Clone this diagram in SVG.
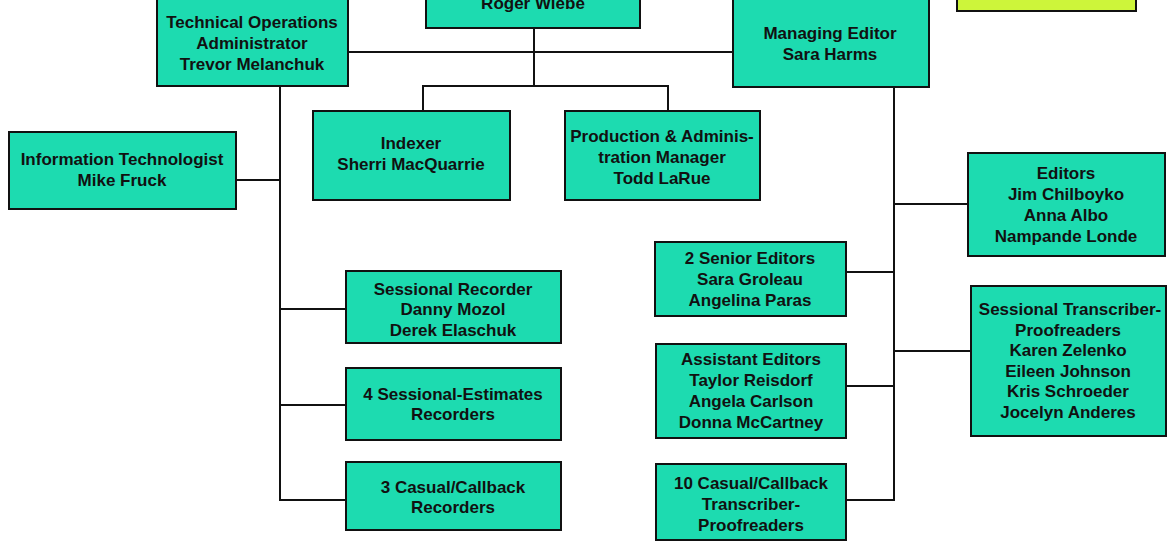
<svg xmlns="http://www.w3.org/2000/svg" width="1175" height="550" viewBox="0 0 1175 550">
<style>
.box{fill:#1ddbb0;stroke:#111;stroke-width:2}
.yel{fill:#cdf53a;stroke:#111;stroke-width:2}
.t{font-family:"Liberation Sans",Arial,sans-serif;font-weight:bold;font-size:17px;fill:#111;text-anchor:middle}
.c{fill:none;stroke:#111;stroke-width:2}
</style>
<rect width="1175" height="550" fill="#fff"/>
<g id="connectors">
<path class="c" d="M348 52H733M534 28V86M423 111V86H668V111"/>
<path class="c" d="M280 86V500H346M236 180H280M280 309H346M280 405H346"/>
<path class="c" d="M894 86V500H846M894 204H968M846 272H894M894 351H971M846 386H894"/>
</g>
<g id="roger"><rect class="box" x="426" y="-10" width="214" height="38"/><text class="t" x="533" y="9">Roger Wiebe</text></g>
<g id="yellow"><rect class="yel" x="957" y="-10" width="179" height="21"/></g>
<g id="techops"><rect class="box" x="157" y="-2" width="191" height="88"/><text class="t" x="252" y="28">Technical Operations</text><text class="t" x="252" y="49">Administrator</text><text class="t" x="252" y="70">Trevor Melanchuk</text></g>
<g id="manedit"><rect class="box" x="733" y="-2" width="196" height="89"/><text class="t" x="830" y="39">Managing Editor</text><text class="t" x="830" y="60">Sara Harms</text></g>
<g id="indexer"><rect class="box" x="313" y="111" width="197" height="89"/><text class="t" x="411" y="149">Indexer</text><text class="t" x="411" y="170">Sherri MacQuarrie</text></g>
<g id="production"><rect class="box" x="565" y="111" width="195" height="89"/><text class="t" x="662" y="142">Production &amp; Adminis-</text><text class="t" x="662" y="163">tration Manager</text><text class="t" x="662" y="184">Todd LaRue</text></g>
<g id="infotech"><rect class="box" x="9" y="132" width="227" height="77"/><text class="t" x="122" y="165">Information Technologist</text><text class="t" x="122" y="186">Mike Fruck</text></g>
<g id="sessrec"><rect class="box" x="346" y="271" width="215" height="72"/><text class="t" x="453" y="295">Sessional Recorder</text><text class="t" x="453" y="315">Danny Mozol</text><text class="t" x="453" y="336">Derek Elaschuk</text></g>
<g id="estimates"><rect class="box" x="346" y="368" width="215" height="72"/><text class="t" x="453" y="400">4 Sessional-Estimates</text><text class="t" x="453" y="420">Recorders</text></g>
<g id="casualrec"><rect class="box" x="346" y="462" width="215" height="68"/><text class="t" x="453" y="493">3 Casual/Callback</text><text class="t" x="453" y="513">Recorders</text></g>
<g id="editors"><rect class="box" x="968" y="153" width="197" height="103"/><text class="t" x="1066" y="179">Editors</text><text class="t" x="1066" y="200">Jim Chilboyko</text><text class="t" x="1066" y="221">Anna Albo</text><text class="t" x="1066" y="242">Nampande Londe</text></g>
<g id="senior"><rect class="box" x="655" y="242" width="191" height="74"/><text class="t" x="750" y="264">2 Senior Editors</text><text class="t" x="750" y="285">Sara Groleau</text><text class="t" x="750" y="306">Angelina Paras</text></g>
<g id="transcribers"><rect class="box" x="971" y="286" width="195" height="150"/><text class="t" x="1070" y="315">Sessional Transcriber-</text><text class="t" x="1068" y="336">Proofreaders</text><text class="t" x="1068" y="356">Karen Zelenko</text><text class="t" x="1068" y="377">Eileen Johnson</text><text class="t" x="1068" y="397">Kris Schroeder</text><text class="t" x="1068" y="418">Jocelyn Anderes</text></g>
<g id="assistant"><rect class="box" x="656" y="344" width="190" height="94"/><text class="t" x="751" y="365">Assistant Editors</text><text class="t" x="751" y="386">Taylor Reisdorf</text><text class="t" x="751" y="407">Angela Carlson</text><text class="t" x="751" y="428">Donna McCartney</text></g>
<g id="casualtrans"><rect class="box" x="656" y="464" width="190" height="76"/><text class="t" x="751" y="489">10 Casual/Callback</text><text class="t" x="751" y="510">Transcriber-</text><text class="t" x="751" y="531">Proofreaders</text></g>
</svg>
